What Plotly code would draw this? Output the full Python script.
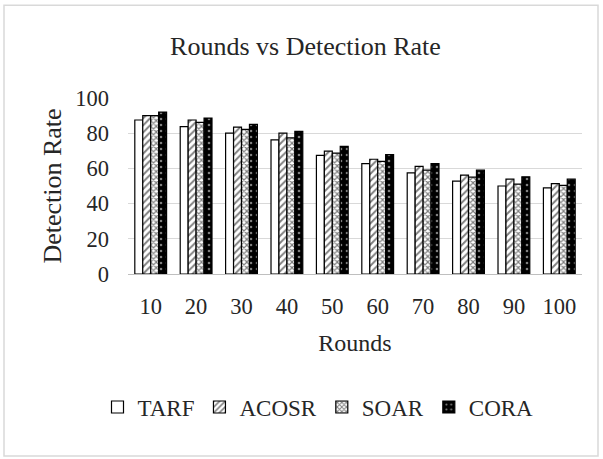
import plotly.graph_objects as go

rounds = ["10", "20", "30", "40", "50", "60", "70", "80", "90", "100"]
tarf = [87.5, 83.7, 80.0, 76.2, 67.4, 62.7, 57.5, 52.8, 50.0, 48.9]
acosr = [90.0, 87.5, 83.5, 80.0, 69.8, 65.2, 61.2, 56.2, 53.9, 51.3]
soar = [90.0, 86.1, 82.2, 77.4, 68.7, 64.0, 59.0, 55.0, 51.1, 50.4]
cora = [92.0, 88.6, 85.0, 81.0, 72.5, 67.8, 62.7, 59.0, 55.2, 53.9]
y_ticks = [0, 20, 40, 60, 80, 100]

FONT = "Liberation Serif, Times New Roman, serif"

fig = go.Figure()
fig.add_trace(go.Bar(name="TARF", x=rounds, y=tarf,
                     marker=dict(color="white", line=dict(color="black", width=1.2))))
fig.add_trace(go.Bar(name="ACOSR", x=rounds, y=acosr,
                     marker=dict(color="white", line=dict(color="black", width=1.2),
                                 pattern=dict(shape="/", fgcolor="black", bgcolor="white",
                                              size=5, solidity=0.4))))
fig.add_trace(go.Bar(name="SOAR", x=rounds, y=soar,
                     marker=dict(color="white", line=dict(color="black", width=1.2),
                                 pattern=dict(shape="x", fgcolor="black", bgcolor="white",
                                              size=4, solidity=0.5))))
fig.add_trace(go.Bar(name="CORA", x=rounds, y=cora,
                     marker=dict(color="black", line=dict(color="black", width=1.2),
                                 pattern=dict(shape=".", fgcolor="white", bgcolor="black",
                                              size=6, solidity=0.15))))

fig.update_layout(
    width=603, height=459,
    margin=dict(l=128, r=21, t=98, b=184.5),
    paper_bgcolor="white", plot_bgcolor="white",
    font=dict(family=FONT, color="#262626", size=22),
    barmode="group", bargap=0.3, bargroupgap=0.0,
    title=dict(text="Rounds vs Detection Rate", font=dict(size=26, family=FONT, color="#262626"),
               x=305.5 / 603, xanchor="center", y=1 - 46 / 459, yanchor="middle", xref="container"),
    xaxis=dict(showgrid=False, showline=True, linecolor="#bfbfbf", linewidth=1,
               ticks="", tickfont=dict(size=22.5), ticklabelstandoff=12,
               title=dict(text="Rounds", font=dict(size=24), standoff=16)),
    yaxis=dict(range=[0, 100], tickvals=y_ticks, showgrid=True, gridcolor="#d9d9d9",
               gridwidth=1.3, zeroline=False, showline=False, ticks="",
               tickfont=dict(size=22.5), ticklabelstandoff=18,
               title=dict(text="Detection Rate", font=dict(size=26), standoff=6)),
    legend=dict(orientation="h", x=(318 - 128) / 454, xanchor="center", xref="paper",
                y=-0.756, yanchor="middle", font=dict(size=23),
                itemwidth=30, traceorder="normal", itemclick=False),
    showlegend=True,
)

fig.add_shape(type="rect", xref="paper", yref="paper",
              x0=(4 - 128) / 454, x1=(598 - 128) / 454,
              y0=(274.5 - 457) / 176.5, y1=(274.5 - 5) / 176.5,
              line=dict(color="#d9d9d9", width=1.5), fillcolor="rgba(0,0,0,0)", layer="below")

fig.write_html("out.html", config={"displayModeBar": False},
               post_script="document.body.style.margin='0px';")
